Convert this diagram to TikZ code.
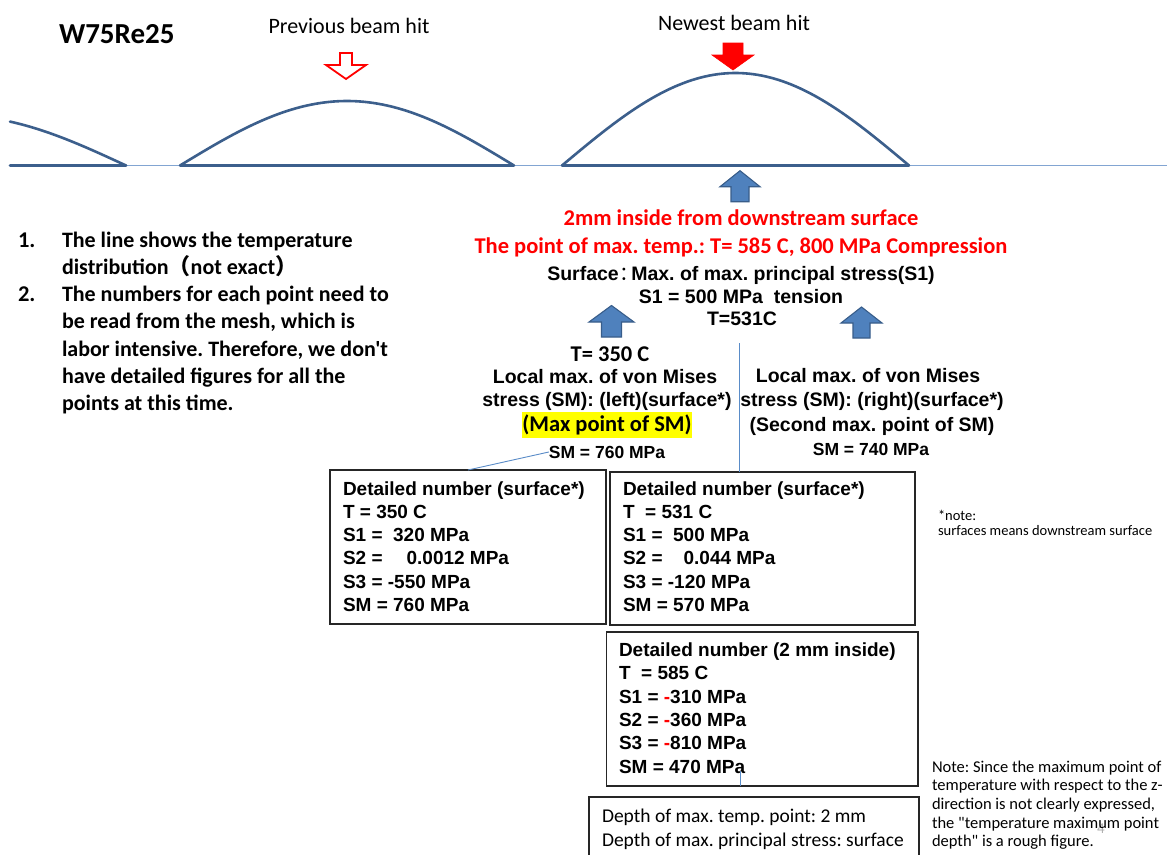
\documentclass[tikz,border=0pt]{standalone}
\usepackage{fontspec}
\setmainfont{Carlito}[Ligatures=TeXOff]
\newfontfamily\arialfont{Liberation Sans}[Ligatures=TeXOff]
\newfontfamily\cjkfont{Noto Sans CJK SC}
\usetikzlibrary{calc}
\frenchspacing

\definecolor{humpblue}{RGB}{60,95,140}
\definecolor{groundblue}{RGB}{130,165,210}
\definecolor{arrowfill}{RGB}{79,129,189}
\definecolor{arrowedge}{RGB}{56,93,138}
\definecolor{linkblue}{RGB}{90,140,200}
\definecolor{pagegray}{RGB}{175,175,175}
\definecolor{marker}{RGB}{255,255,0}

\newcommand\fsz[2]{\fontsize{#1}{#2}\selectfont}
\newcommand\topgap[1]{\rule{0pt}{#1}}

% block arrow pointing up: style, centre x, tip y, head-base y, bottom y, head half width, shaft half width
\newcommand\uparrowshape[7]{%
  \path[#1] (#2,#3) -- (#2+#6,#4) -- (#2+#7,#4) -- (#2+#7,#5)
    -- (#2-#7,#5) -- (#2-#7,#4) -- (#2-#6,#4) -- cycle;}
% block arrow pointing down: style, centre x, top y, head-base y, tip y, head half width, shaft half width
\newcommand\downarrowshape[7]{%
  \path[#1] (#2-#7,#3) -- (#2+#7,#3) -- (#2+#7,#4) -- (#2+#6,#4)
    -- (#2,#5) -- (#2-#6,#4) -- (#2-#7,#4) -- cycle;}

\begin{document}
\begin{tikzpicture}[x=1pt,y=-1pt,
  every node/.style={inner sep=0pt, outer sep=0pt},
  hump/.style={draw=humpblue, line width=2.6pt, line join=round, line cap=round},
  groundline/.style={draw=groundblue, line width=1.3pt},
  bluearrow/.style={fill=arrowfill, draw=arrowedge, line width=1.1pt},
  hitnew/.style={fill=red, draw=red, line width=0.6pt},
  hitold/.style={fill=white, draw=red, line width=1.8pt},
  link/.style={draw=linkblue, line width=0.9pt},
  databox/.style={draw=black!85, line width=1.3pt, anchor=north west},
  calreg/.style={font=\fsz{22}{24}},
  calbold/.style={font=\fsz{22.5}{24}\bfseries},
  redbold/.style={font=\fsz{22.5}{24}\bfseries, text=red},
  arbold/.style={font=\arialfont\bfseries\fsz{19.5}{22}},
  arsmall/.style={font=\arialfont\bfseries\fsz{17.5}{20}},
  boxtext/.style={font=\arialfont\bfseries\fsz{19}{23.3}, align=left, anchor=north west},
  listtext/.style={font=\fsz{22}{27.2}\bfseries, align=left, anchor=north west},
  notetext/.style={font=\fsz{16.5}{18.7}, align=left, anchor=north west},
]
\useasboundingbox (0,0) rectangle (1167,854);
\fill[white] (0,0) rectangle (1167,854);
\clip (0,0) rectangle (1167,854);

% ground line and temperature humps
\draw[groundline] (10,165.5) -- (1167,165.5);
\draw[hump] plot[domain=10:126, samples=50] (\x,{165.5-50*cos((\x+44)/170*90)});
\draw[hump] (10,165.5) -- (126,165.5);
\draw[hump] plot[domain=180:514, samples=90] (\x,{165.5-64.5*sin((\x-180)/334*180)}) -- cycle;
\draw[hump] plot[domain=562:909, samples=90] (\x,{165.5-92.5*sin((\x-562)/347*180)}) -- cycle;

% beam hit markers
\downarrowshape{hitold}{346}{53}{65}{79}{20}{6}
\downarrowshape{hitnew}{733}{43}{55}{70}{21}{10}

% upward block arrows
\uparrowshape{bluearrow}{740}{170.7}{186.7}{201.7}{20}{9}
\uparrowshape{bluearrow}{611.5}{305.5}{322}{337}{22.5}{10}
\uparrowshape{bluearrow}{861.5}{307}{323}{338}{20.5}{8.5}

% headings
\node[font=\fsz{29}{30}\bfseries, anchor=base west] (title) at (59,43) {W75Re25};
\node[calreg, anchor=base] (prevlbl) at (349,33) {Previous beam hit};
\node[calreg, anchor=base] (newlbl) at (734,30) {Newest beam hit};

% numbered remarks
\node[calbold, anchor=base west] (num1) at (18,247.3) {1.};
\node[listtext] (item1) at (62,231.3) {\topgap{16pt}The line shows the temperature\\distribution{\cjkfont（}not exact{\cjkfont）}};
\node[calbold, anchor=base west] (num2) at (18,301.7) {2.};
\node[listtext] (item2) at (62,285.7) {\topgap{16pt}The numbers for each point need to\\be read from the mesh, which is\\labor intensive. Therefore, we don't\\have detailed figures for all the\\points at this time.};

% max temperature / max principal stress
\node[redbold, anchor=base] (red1) at (741,225.5) {2mm inside from downstream surface};
\node[redbold, anchor=base] (red2) at (741,253.5) {The point of max. temp.: T= 585 C, 800 MPa Compression};
\node[arbold, anchor=base] (s1head) at (741,280) {Surface\kern1pt{\cjkfont\mdseries ：}\kern-8pt Max. of max. principal stress(S1)};
\node[arbold, anchor=base] (s1val) at (741,303) {S1 = 500 MPa\ \ tension};
\node[arbold, anchor=base] (s1temp) at (742,325) {T=531C};

% left local maximum of von Mises stress
\node[calbold, anchor=base] (tleft) at (610,361) {T= 350 C};
\node[arbold, anchor=base] (lmax1) at (605,383.5) {Local max. of von Mises};
\node[arbold, anchor=base] (lmax2) at (607,406) {stress (SM): (left)(surface*)};
\node[calbold, anchor=base, fill=marker, text height=19.5pt, text depth=6.5pt] (lmax3) at (607,431.5) {(Max point of SM)};
\node[arsmall, anchor=base] (sm760) at (607,458) {SM = 760 MPa};

% right local maximum of von Mises stress
\node[arbold, anchor=base] (rmax1) at (868,382.5) {Local max. of von Mises};
\node[arbold, anchor=base] (rmax2) at (872,406) {stress (SM): (right)(surface*)};
\node[arbold, anchor=base] (rmax3) at (872,431.5) {(Second max. point of SM)};
\node[arsmall, anchor=base] (sm740) at (871,455) {SM = 740 MPa};

% detail boxes
\node[databox, minimum width=276pt, minimum height=154pt] (box1) at (330,470) {};
\node[boxtext] (box1txt) at (343,480) {\topgap{15pt}Detailed number (surface*)\\T = 350 C\\S1 =\ \ 320 MPa\\S2 =\hspace{24pt}0.0012 MPa\\S3 = -550 MPa\\SM = 760 MPa};

\node[databox, minimum width=305pt, minimum height=153pt] (box2) at (610,472) {};
\node[boxtext] (box2txt) at (623,480) {\topgap{15pt}Detailed number (surface*)\\T\ \ = 531 C\\S1 =\ \ 500 MPa\\S2 =\hspace{21pt}0.044 MPa\\S3 = -120 MPa\\SM = 570 MPa};

\node[databox, minimum width=311.5pt, minimum height=154pt] (box3) at (606.5,632) {};
\node[boxtext] (box3txt) at (619,641.5) {\topgap{15pt}Detailed number (2 mm inside)\\T\ \ = 585 C\\S1 = {\color{red}-}310 MPa\\S2 = {\color{red}-}360 MPa\\S3 = {\color{red}-}810 MPa\\SM = 470 MPa};

\node[databox, minimum width=330pt, minimum height=80pt] (box4) at (589,797) {};
\node[font=\fsz{19.5}{23.3}, align=left, anchor=north west] (box4txt) at (602,807.7) {\topgap{15pt}Depth of max. temp. point: 2 mm\\Depth of max. principal stress: surface};

% connectors
\draw[link] (sm760.west) -- (box1.north);
\coordinate (splitpt) at (739.5,343);
\draw[link] (splitpt) -- (splitpt |- box2.north);
\coordinate (innerpt) at (740,771);
\draw[link] (innerpt) -- (innerpt |- box3.south);

% side notes
\node[font=\fsz{14.5}{14.5}, align=left, anchor=north west] (starnote) at (938,509.7) {\topgap{11pt}*note:\\surfaces means downstream surface};
\node[font=\fsz{15}{16}, text=pagegray] (pagenum) at (1101,829) {4};
\node[notetext] (depthnote) at (932,759) {\topgap{13pt}Note: Since the maximum point of\\temperature with respect to the z-\\direction is not clearly expressed,\\the "temperature maximum point\\depth" is a rough figure.};
\end{tikzpicture}
\end{document}
